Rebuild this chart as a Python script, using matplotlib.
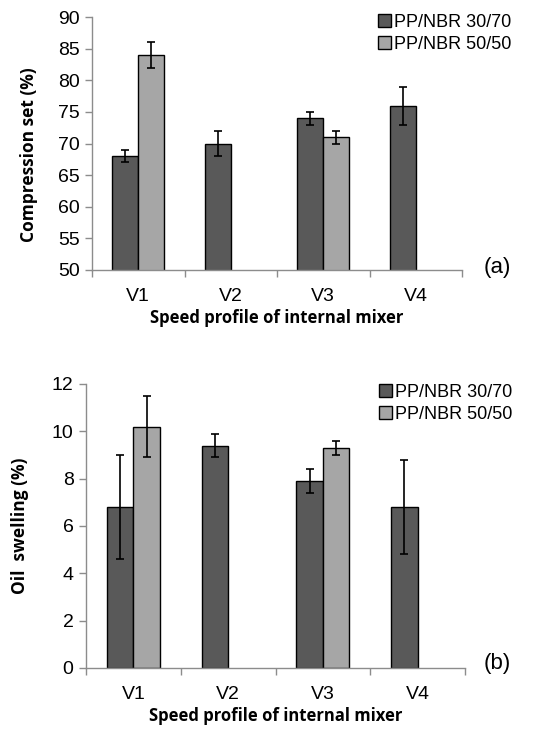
import numpy as np
import matplotlib
matplotlib.use("Agg")
import matplotlib.pyplot as plt
from matplotlib.patches import Patch

plt.rcParams["font.family"] = ["Liberation Sans", "DejaVu Sans"]

categories = ["V1", "V2", "V3", "V4"]
series_names = ["PP/NBR 30/70", "PP/NBR 50/50"]

comp_3070 = [68, 70, 74, 76]
comp_3070_err = [1, 2, 1, 3]
comp_5050 = [84, np.nan, 71, np.nan]
comp_5050_err = [2, np.nan, 1, np.nan]

oil_3070 = [6.8, 9.4, 7.9, 6.8]
oil_3070_err = [2.2, 0.5, 0.5, 2.0]
oil_5050 = [10.2, np.nan, 9.3, np.nan]
oil_5050_err = [1.3, np.nan, 0.3, np.nan]

dark = "#595959"
light = "#a6a6a6"
axis_col = "#8c8c8c"
W, H = 541, 733

fig = plt.figure(figsize=(W / 100, H / 100), dpi=100)


def panel(rect, v1, e1, v2, e2, ylim, yticks, ylabel, ylab_pos, tag, tag_y, leg_xy):
    ax = fig.add_axes(rect)
    x = np.arange(len(categories))
    w = 0.28
    ax.bar(x - w / 2, v1, w, color=dark, edgecolor="black", linewidth=1, zorder=2)
    ax.bar(x + w / 2, v2, w, color=light, edgecolor="black", linewidth=1, zorder=2)
    ax.errorbar(x - w / 2, v1, yerr=e1, fmt="none", ecolor="black", elinewidth=1.2,
                capsize=3, capthick=1.2, zorder=3)
    ax.errorbar(x + w / 2, v2, yerr=e2, fmt="none", ecolor="black", elinewidth=1.2,
                capsize=3, capthick=1.2, zorder=3)
    ax.set_xlim(-0.5, len(categories) - 0.5)
    ax.set_ylim(*ylim)
    ax.set_yticks(yticks)
    ax.set_xticks(x)
    ax.set_xticklabels(categories)
    ax.set_xticks(np.arange(len(categories) + 1) - 0.5, minor=True)
    ax.tick_params(axis="x", which="major", length=0, pad=13, labelsize=14)
    ax.tick_params(axis="x", which="minor", length=5, color=axis_col, width=1)
    ax.tick_params(axis="y", length=5, color=axis_col, width=1, labelsize=14, pad=4)
    for s in ["top", "right"]:
        ax.spines[s].set_visible(False)
    for s in ["left", "bottom"]:
        ax.spines[s].set_color(axis_col)
        ax.spines[s].set_linewidth(1)
    ax.set_ylabel(ylabel, fontfamily="Open Sans", fontweight="bold", fontsize=12.5)
    ax.yaxis.set_label_coords(*ylab_pos)
    ax.set_xlabel("Speed profile of internal mixer", fontfamily="Open Sans",
                  fontweight="bold", fontsize=12, labelpad=3)
    fig.text(497 / W, 1 - tag_y / H, tag, fontsize=16, ha="center", va="center")
    handles = [Patch(facecolor=dark, edgecolor="black"), Patch(facecolor=light, edgecolor="black")]
    fig.legend(handles, series_names, loc="upper left",
               bbox_to_anchor=(leg_xy[0] / W, 1 - leg_xy[1] / H), frameon=False,
               fontsize=13, handlelength=0.7, handleheight=0.7, handletextpad=0.2,
               labelspacing=0.25, borderaxespad=0, borderpad=0)
    return ax


panel([92 / W, 1 - 270 / H, 370 / W, 253 / H], comp_3070, comp_3070_err, comp_5050, comp_5050_err,
      (50, 90), range(50, 91, 5), "Compression set (%)", (-0.147, 0.455), "(a)", 267, (378, 14))
panel([86 / W, 1 - 668 / H, 379 / W, 284 / H], oil_3070, oil_3070_err, oil_5050, oil_5050_err,
      (0, 12), range(0, 13, 2), "Oil  swelling (%)", (-0.15, 0.5), "(b)", 663, (379, 384))

fig.savefig("out.png", dpi=100)
